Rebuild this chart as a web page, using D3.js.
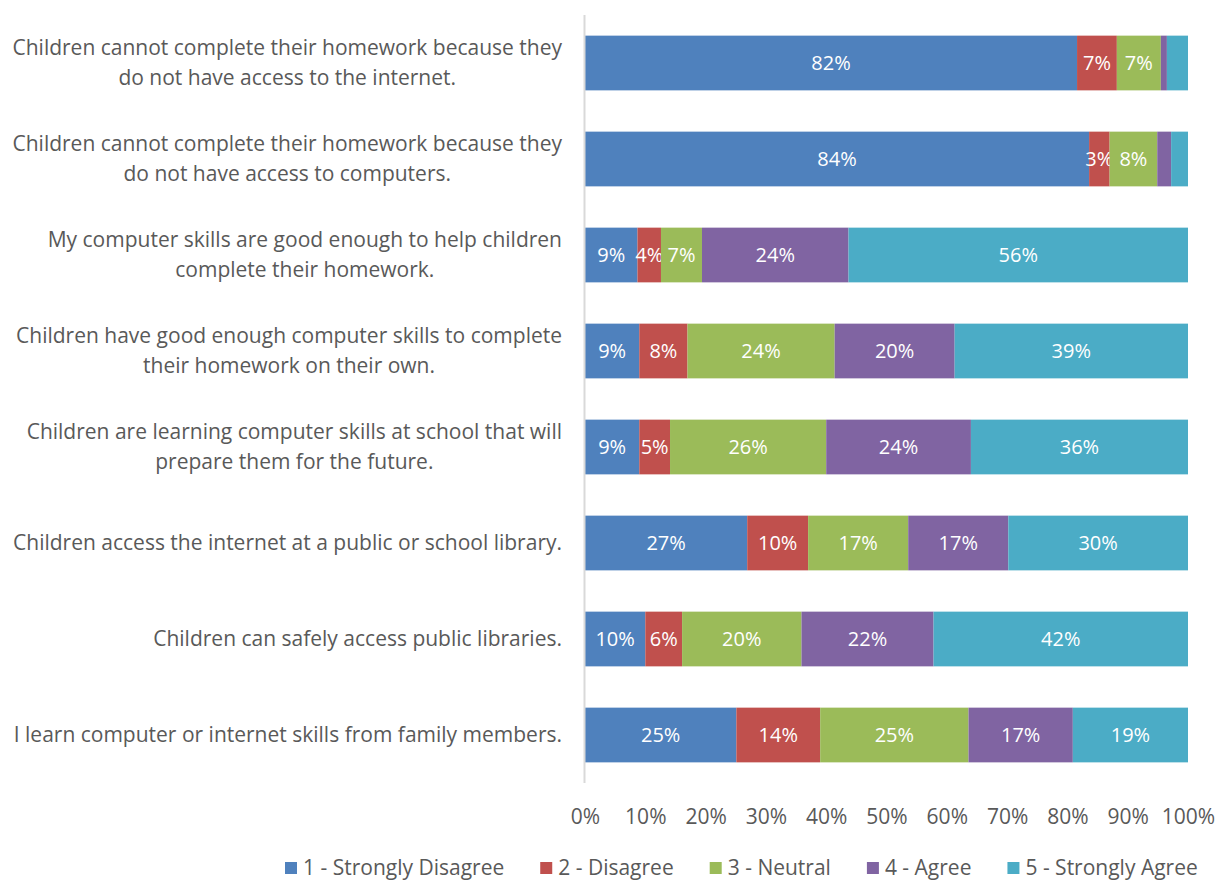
<!DOCTYPE html>
<html>
<head>
<meta charset="utf-8">
<script src="https://cdn.jsdelivr.net/npm/d3@7"></script>
<style>
  html, body { margin: 0; padding: 0; background: #fff; }
  svg { display: block; font-family: "Open Sans", Lato, sans-serif; }
</style>
</head>
<body>
<svg id="chart" width="1217" height="880"></svg>
<script>
const categories = [
  ["Children cannot complete their homework because they", "do not have access to the internet."],
  ["Children cannot complete their homework because they", "do not have access to computers."],
  ["My computer skills are good enough to help children", "complete their homework."],
  ["Children have good enough computer skills to complete", "their homework on their own."],
  ["Children are learning computer skills at school that will", "prepare them for the future."],
  ["Children access the internet at a public or school library."],
  ["Children can safely access public libraries."],
  ["I learn computer or internet skills from family members."]
];
const seriesNames = ["1 - Strongly Disagree", "2 - Disagree", "3 - Neutral", "4 - Agree", "5 - Strongly Agree"];
const stronglyDisagree = [81.6, 83.6, 8.7, 9.0, 9.0, 26.9, 10.0, 25.1];
const disagree         = [6.6, 3.4, 3.9, 8.0, 5.1, 10.1, 6.1, 13.9];
const neutral          = [7.3, 7.9, 6.8, 24.4, 25.9, 16.6, 19.8, 24.6];
const agree            = [1.0, 2.3, 24.3, 19.9, 24.0, 16.6, 21.9, 17.3];
const stronglyAgree    = [3.5, 2.8, 56.3, 38.7, 36.0, 29.8, 42.2, 19.1];
const hiddenLabels = [[0, 3], [0, 4], [1, 3], [1, 4]]; // [row, series] with no data label
const tickValues = [0, 10, 20, 30, 40, 50, 60, 70, 80, 90, 100];
const colors = ["#4f81bd", "#c0504d", "#9bbb59", "#8064a2", "#4bacc6"];

const seriesValues = [stronglyDisagree, disagree, neutral, agree, stronglyAgree];
const rows = categories.map((c, i) => {
  const r = { i };
  seriesValues.forEach((s, k) => r["s" + k] = s[i]);
  return r;
});
const keys = seriesValues.map((_, k) => "s" + k);
const stacked = d3.stack().keys(keys)(rows);

const svg = d3.select("#chart");
const mLeft = 585, mRight = 1188, mTop = 15, mBottom = 783;
const FS = 21;

const x = d3.scaleLinear().domain([0, 100]).range([mLeft, mRight]);
const y = d3.scaleBand().domain(d3.range(categories.length)).range([mTop, mBottom]).paddingInner(0.43).paddingOuter(0.215);

// bars
const g = svg.append("g");
stacked.forEach((layer, k) => {
  const lg = g.append("g").attr("fill", colors[k]);
  lg.selectAll("rect").data(layer).join("rect")
    .attr("x", d => x(d[0]))
    .attr("width", d => x(d[1]) - x(d[0]))
    .attr("y", (d, i) => y(i))
    .attr("height", y.bandwidth());
  lg.selectAll("text").data(layer).join("text")
    .filter((d, i) => !hiddenLabels.some(h => h[0] === i && h[1] === k))
    .attr("x", d => (x(d[0]) + x(d[1])) / 2)
    .attr("y", d => y(d.data.i) + y.bandwidth() / 2)
    .attr("dy", "0.35em")
    .attr("text-anchor", "middle")
    .attr("fill", "#fff")
    .attr("font-size", 20)
    .text(d => Math.round(seriesValues[k][d.data.i]) + "%");
});

// vertical axis line
svg.append("line").attr("x1", mLeft - 0.5).attr("x2", mLeft - 0.5).attr("y1", mTop).attr("y2", mBottom)
  .attr("stroke", "#d9d9d9").attr("stroke-width", 2);

// category labels
const labelRight = 562;
categories.forEach((lines, i) => {
  const cy = y(i) + y.bandwidth() / 2;
  const lh = 30;
  const grp = svg.append("g");
  const texts = lines.map((ln, j) => grp.append("text")
    .attr("y", cy + (j - (lines.length - 1) / 2) * lh)
    .attr("dy", "0.35em")
    .attr("fill", "#595959")
    .attr("font-size", FS)
    .attr("text-anchor", "middle")
    .text(ln));
  const widths = texts.map(t => t.node().getComputedTextLength());
  const maxW = d3.max(widths);
  texts.forEach(t => t.attr("x", labelRight - maxW / 2));
});

// x axis
const xAxis = d3.axisBottom(x).tickValues(tickValues).tickFormat(d => d + "%").tickSize(0).tickPadding(0);
const ax = svg.append("g").attr("transform", `translate(0, 817)`).call(xAxis);
ax.select(".domain").remove();
ax.selectAll("text").attr("fill", "#595959").attr("font-size", FS).attr("font-family", "'Open Sans', Lato, sans-serif").attr("dy", "0.35em").attr("y", 0);

// legend
const leg = svg.append("g");
let lx = 285;
const ly = 868;
seriesNames.forEach((name, k) => {
  leg.append("rect").attr("x", lx).attr("y", ly - 6).attr("width", 12).attr("height", 12).attr("fill", colors[k]);
  const t = leg.append("text").attr("x", lx + 18).attr("y", ly).attr("dy", "0.35em")
    .attr("fill", "#595959").attr("font-size", FS).text(name);
  lx += 18 + t.node().getComputedTextLength() + 36;
});
</script>
</body>
</html>
